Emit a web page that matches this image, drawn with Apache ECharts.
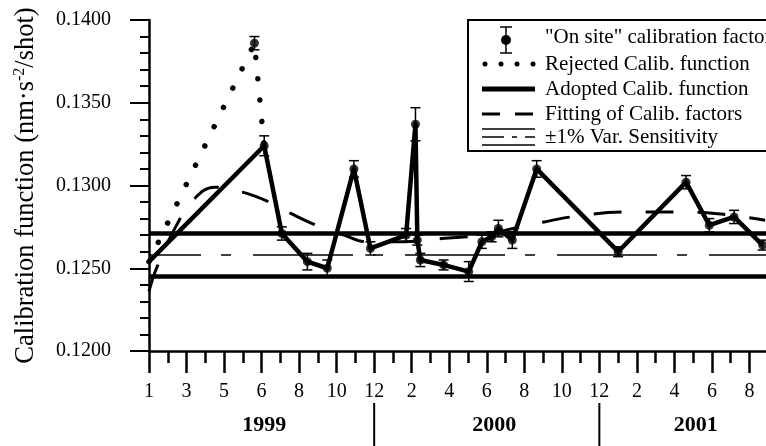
<!DOCTYPE html>
<html>
<head>
<meta charset="utf-8">
<script src="https://cdn.jsdelivr.net/npm/echarts@6/dist/echarts.min.js"></script>
<style>
  html, body { margin: 0; padding: 0; background: #fff; overflow: hidden; }
  #chart { width: 790px; height: 446px; }
</style>
</head>
<body>
<div id="chart"></div>
<script>
// x positions are in tick steps: 0 = first tick ("1", Jan 1999), one step per major tick
const tickLabels = ["1", "3", "5", "6", "8", "10", "12", "2", "4", "6", "8", "10", "12", "2", "4", "6", "8"];
const years = ["1999", "2000", "2001"];
const yearCenters = [3.07, 9.2, 14.57];
const yearBreaks = [6, 12];

// "On site" calibration factors with their error bars
const factorX = [2.81, 3.07, 3.54, 4.22, 4.75, 5.46, 5.90, 6.85, 7.10, 7.15, 7.23, 7.85, 8.52, 8.87, 9.13, 9.31, 9.68, 10.33, 12.50, 14.31, 14.93, 15.59, 16.35];
const factorY = [0.1386, 0.1324, 0.1271, 0.1254, 0.1250, 0.1310, 0.1262, 0.1270, 0.1337, 0.1267, 0.1255, 0.1252, 0.1248, 0.1266, 0.1269, 0.1274, 0.1267, 0.1310, 0.1260, 0.1302, 0.1276, 0.1281, 0.1264];
const factorErr = [0.0004, 0.0006, 0.0004, 0.0005, 0.0005, 0.0005, 0.0004, 0.0004, 0.0010, 0.0003, 0.0004, 0.0003, 0.0006, 0.0004, 0.0003, 0.0005, 0.0005, 0.0005, 0.0003, 0.0004, 0.0004, 0.0004, 0.0003];

const rejectedX = [0, 2.81, 3.07];
const rejectedY = [0.1254, 0.1386, 0.1324];

const adoptedX = [0, 3.07, 3.54, 4.22, 4.75, 5.46, 5.90, 6.85, 7.10, 7.15, 7.23, 7.85, 8.52, 8.87, 9.13, 9.31, 9.68, 10.33, 12.50, 14.31, 14.93, 15.59, 16.35];
const adoptedY = [0.1254, 0.1324, 0.1271, 0.1254, 0.1250, 0.1310, 0.1262, 0.1270, 0.1337, 0.1267, 0.1255, 0.1252, 0.1248, 0.1266, 0.1269, 0.1274, 0.1267, 0.1310, 0.1260, 0.1302, 0.1276, 0.1281, 0.1264];

const fitX = [0, 0.2, 0.71, 1.21, 1.74, 2.49, 3.21, 3.79, 4.45, 5.2, 5.81, 6.8, 7.8, 8.86, 9.7, 10.53, 11.25, 12.63, 14.04, 15.15, 16.42];
const fitY = [0.1236, 0.1250, 0.1275, 0.1292, 0.1299, 0.1296, 0.1290, 0.1283, 0.1276, 0.1270, 0.1266, 0.1266, 0.1268, 0.1270, 0.1274, 0.1278, 0.1281, 0.1284, 0.1284, 0.1283, 0.1279];

// mean sensitivity and its ±1% band, drawn across the whole x range
const sensMean = 0.1258;
const sensBand = [0.1245, 0.1271];
const xSpan = [0, 17];

const serif = '"Liberation Serif", "Times New Roman", serif';
const chart = echarts.init(document.getElementById("chart"));
const zip = (xs, ys) => xs.map((x, i) => [x, ys[i]]);
const level = (v) => xSpan.map((x) => [x, v]);

chart.setOption({
  animation: false,
  backgroundColor: "#fff",
  textStyle: { fontFamily: serif, color: "#000" },
  grid: { left: 149, right: 0, top: 20, bottom: 95 },
  xAxis: {
    type: "value",
    min: xSpan[0],
    max: xSpan[1],
    interval: 1,
    splitLine: { show: false },
    axisLine: { lineStyle: { color: "#000", width: 2.5 } },
    axisTick: { length: 22, lineStyle: { color: "#000", width: 2.5 } },
    minorTick: { show: true, splitNumber: 2, length: 12, lineStyle: { color: "#000", width: 2.5 } },
    axisLabel: {
      margin: 31,
      fontSize: 20,
      fontFamily: serif,
      color: "#000",
      formatter: (v) => (Number.isInteger(v) && tickLabels[v] !== undefined ? tickLabels[v] : "")
    }
  },
  yAxis: {
    type: "value",
    min: 0.12,
    max: 0.14,
    interval: 0.005,
    splitLine: { show: false },
    axisLine: { show: true, lineStyle: { color: "#000", width: 2.5 } },
    axisTick: { length: 19, lineStyle: { color: "#000", width: 2 } },
    minorTick: { show: true, splitNumber: 5, length: 9, lineStyle: { color: "#000", width: 2 } },
    axisLabel: { margin: 38, fontSize: 20, fontFamily: serif, color: "#000", formatter: (v) => v.toFixed(4) },
    name: "{t|Calibration function (nm·s}{s|-2}{t|/shot)}",
    nameLocation: "middle",
    nameGap: 108,
    nameTextStyle: {
      rich: {
        t: { fontSize: 26.5, fontFamily: serif, color: "#000", lineHeight: 29 },
        s: { fontSize: 16, fontFamily: serif, color: "#000", verticalAlign: "top", lineHeight: 29, padding: [0, 0, 10, 0] }
      }
    }
  },
  series: [
    {
      name: "-1% Sensitivity",
      type: "line",
      showSymbol: false,
      data: level(sensBand[0]),
      lineStyle: { color: "#000", width: 4.5 }
    },
    {
      name: "+1% Sensitivity",
      type: "line",
      showSymbol: false,
      data: level(sensBand[1]),
      lineStyle: { color: "#000", width: 4.5 }
    },
    {
      name: "Mean Sensitivity",
      type: "line",
      showSymbol: false,
      data: level(sensMean),
      lineStyle: { color: "#000", width: 1.5, type: [100, 20, 10, 22], dashOffset: 48 }
    },
    {
      name: "Fitting of Calib. factors",
      type: "line",
      smooth: 0.4,
      showSymbol: false,
      data: zip(fitX, fitY),
      lineStyle: { color: "#000", width: 3, type: [28, 24] }
    },
    {
      name: "Rejected Calib. function",
      type: "line",
      showSymbol: false,
      data: zip(rejectedX, rejectedY),
      lineStyle: { color: "#000", width: 5.5, type: [0.01, 21.4], cap: "round" }
    },
    {
      name: "Adopted Calib. function",
      type: "line",
      showSymbol: false,
      data: zip(adoptedX, adoptedY),
      lineStyle: { color: "#000", width: 4.5, join: "round" }
    },
    {
      name: "error bars",
      type: "custom",
      data: factorX.map((x, i) => [x, factorY[i] - factorErr[i], factorY[i] + factorErr[i]]),
      renderItem: (params, api) => {
        const top = api.coord([api.value(0), api.value(2)]);
        const bot = api.coord([api.value(0), api.value(1)]);
        const w = 5;
        const st = { stroke: "#000", lineWidth: 1.5 };
        return {
          type: "group",
          children: [
            { type: "line", shape: { x1: top[0], y1: top[1], x2: bot[0], y2: bot[1] }, style: st },
            { type: "line", shape: { x1: top[0] - w, y1: top[1], x2: top[0] + w, y2: top[1] }, style: st },
            { type: "line", shape: { x1: bot[0] - w, y1: bot[1], x2: bot[0] + w, y2: bot[1] }, style: st }
          ]
        };
      },
      z: 3
    },
    {
      name: "\"On site\" calibration factor",
      type: "scatter",
      symbol: "circle",
      symbolSize: 9,
      data: zip(factorX, factorY),
      itemStyle: { color: "#000" },
      z: 4
    }
  ]
});

const lx = 482, rx = 535, tx = 545;
const legendRows = [37, 64, 89, 114, 137];
const legendText = [
  "\"On site\" calibration factor",
  "Rejected Calib. function",
  "Adopted Calib. function",
  "Fitting of Calib. factors",
  "±1% Var. Sensitivity"
];
const ln = (x1, y1, x2, y2, style) => ({ type: "line", shape: { x1, y1, x2, y2 }, style: Object.assign({ stroke: "#000" }, style) });

// year captions and separators under the month ticks, placed with the x scale
const graphics = [];
years.forEach((y, i) => {
  const px = chart.convertToPixel({ xAxisIndex: 0 }, yearCenters[i]);
  graphics.push({
    type: "text",
    x: px,
    y: 425,
    style: { text: y, font: "bold 22px " + serif, fill: "#000", textAlign: "center", textVerticalAlign: "middle" }
  });
});
yearBreaks.forEach((b) => {
  const px = chart.convertToPixel({ xAxisIndex: 0 }, b);
  graphics.push(ln(px, 403, px, 446, { lineWidth: 2 }));
});

// legend box
const legendChildren = [
  { type: "rect", shape: { x: 468, y: 20, width: 340, height: 131 }, style: { fill: "#fff", stroke: "#000", lineWidth: 2 } },
  ln(506, 27, 506, 53, { lineWidth: 1.5 }),
  ln(500, 27, 512, 27, { lineWidth: 1.5 }),
  ln(500, 53, 512, 53, { lineWidth: 1.5 }),
  { type: "circle", shape: { cx: 506, cy: 40, r: 5 }, style: { fill: "#000" } },
  ln(lx + 3, legendRows[1], rx, legendRows[1], { lineWidth: 5, lineDash: [0.01, 16], lineCap: "round" }),
  ln(lx, legendRows[2], rx, legendRows[2], { lineWidth: 5 }),
  ln(lx, legendRows[3], rx, legendRows[3], { lineWidth: 3, lineDash: [18, 15] }),
  ln(lx, 129, rx, 129, { lineWidth: 1.5 }),
  ln(lx, 137, rx, 137, { lineWidth: 1.5, lineDash: [22, 8, 5, 8] }),
  ln(lx, 145, rx, 145, { lineWidth: 1.5 })
];
legendText.forEach((t, i) => {
  legendChildren.push({
    type: "text",
    x: tx,
    y: legendRows[i],
    style: { text: t, font: "21px " + serif, fill: "#000", textVerticalAlign: "middle" }
  });
});
graphics.push({ type: "group", z: 100, children: legendChildren });

chart.setOption({ graphic: graphics });
</script>
</body>
</html>
